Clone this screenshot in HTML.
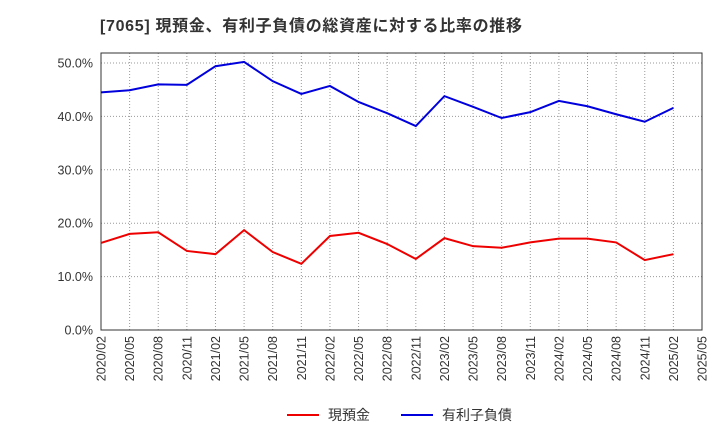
<!DOCTYPE html>
<html><head><meta charset="utf-8"><style>
body{margin:0;background:#fff;}
svg text{font-family:"Liberation Sans","Noto Sans CJK JP",sans-serif;}
</style></head><body>
<svg id="c" width="720" height="440" xmlns="http://www.w3.org/2000/svg">
<text x="100" y="31" font-size="16" font-weight="bold" fill="#333" textLength="422" lengthAdjust="spacing">[7065]  現預金、有利子負債の総資産に対する比率の推移</text>
<g id="grid"></g><g id="axes"></g><g id="series"></g>
<g>
<line x1="287" y1="415" x2="319" y2="415" stroke="#e00" stroke-width="2"/>
<text x="328" y="420" font-size="14" fill="#333">現預金</text>
<line x1="401" y1="415" x2="433" y2="415" stroke="#00d" stroke-width="2"/>
<text x="442" y="420" font-size="14" fill="#333">有利子負債</text>
</g>
</svg>
<script>
const xTicks=["2020/02","2020/05","2020/08","2020/11","2021/02","2021/05","2021/08","2021/11","2022/02","2022/05","2022/08","2022/11","2023/02","2023/05","2023/08","2023/11","2024/02","2024/05","2024/08","2024/11","2025/02","2025/05"];
const yTicks=[0,10,20,30,40,50];
const cash=[16.3,18.0,18.3,14.8,14.2,18.7,14.6,12.4,17.6,18.2,16.1,13.3,17.2,15.7,15.4,16.4,17.1,17.1,16.4,13.1,14.2];
const debt=[44.5,44.9,46.0,45.9,49.4,50.2,46.6,44.2,45.7,42.7,40.6,38.2,43.8,41.8,39.7,40.8,42.9,41.9,40.4,39.0,41.6];
const L=101,R=702,T=53,B=330;
const xs=i=>L+i*(R-L)/(xTicks.length-1);
const ys=v=>B-v*(B-63)/50;
const NS="http://www.w3.org/2000/svg";
function mk(tag,attrs,parent){const e=document.createElementNS(NS,tag);for(const k in attrs)e.setAttribute(k,attrs[k]);document.getElementById(parent).appendChild(e);return e;}
xTicks.forEach((t,i)=>{
 const x=xs(i);
 const g=mk('line',{x1:x,y1:T,x2:x,y2:B,stroke:'#999','stroke-dasharray':'1,2','stroke-width':1},'grid');
 
 
 const tx=mk('text',{x:x+4.5,y:B+6,'font-size':12.5,fill:'#333','text-anchor':'end',transform:`rotate(-90 ${x+4.5} ${B+6})`},'axes');
 tx.textContent=t;
 
 
});
yTicks.forEach(v=>{
 const y=ys(v);
 const g=mk('line',{x1:L,y1:y,x2:R,y2:y,stroke:'#999','stroke-dasharray':'1,2','stroke-width':1},'grid');
 
 
 const tx=mk('text',{x:L-8,y:y+4.5,'font-size':12.5,fill:'#333','text-anchor':'end'},'axes');
 tx.textContent=v.toFixed(1)+'%';
 
 
});
const fr=mk('rect',{x:L,y:T,width:R-L,height:B-T,fill:'none',stroke:'#333','stroke-width':1},'axes');


function line(d,c,n){const p=mk('polyline',{points:d.map((v,i)=>xs(i)+','+ys(v)).join(' '),fill:'none',stroke:c,'stroke-width':2},'series');
 
 }
line(debt,'#00d','debt-line');
line(cash,'#e00','cash-line');
</script>
</body></html>
